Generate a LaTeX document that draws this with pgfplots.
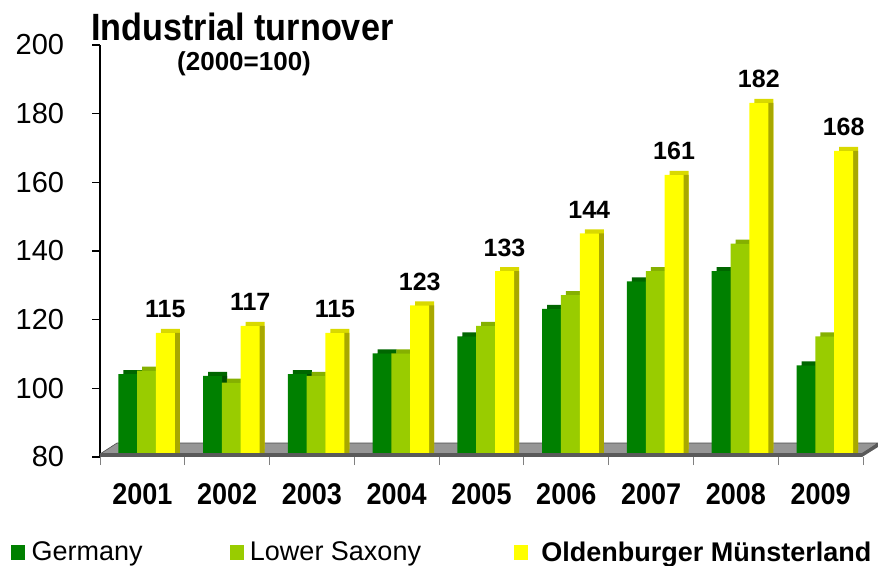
\documentclass[border=0pt]{standalone}
\usepackage{fontspec}
\setmainfont{Liberation Sans}
\newfontfamily\condfont{Liberation Sans}[FakeStretch=0.9]
\usepackage{pgfplots}
\pgfplotsset{compat=1.18}
\usetikzlibrary{shadows}
\definecolor{Gc}{HTML}{008000}
\definecolor{Gtop}{HTML}{006600}
\definecolor{Gside}{HTML}{004D00}
\definecolor{Lc}{HTML}{99CC00}
\definecolor{Ltop}{HTML}{85B000}
\definecolor{Lside}{HTML}{6B8F00}
\definecolor{Oc}{HTML}{FFFF00}
\definecolor{Otop}{HTML}{D9D900}
\definecolor{Oside}{HTML}{A8A800}
\definecolor{floortop}{HTML}{969696}
\definecolor{floorfront}{HTML}{5A5A5A}
\tikzset{
  bar3d/.style 2 args={
    general shadow={shadow xshift=5bp, shadow yshift=4bp, fill=#1, draw=none},
    general shadow={shadow xshift=5bp, shadow yshift=0bp, fill=#2, draw=none}}
}
\pgfplotstableread{
x  G      L      O
0  103    104    115
1  102.5  100.5  117
2  103    102.5  115
3  109    109    123
4  114    117    133
5  122    126    144
6  130    133    161
7  133    141    182
8  105.5  114    168
}\datatable
\begin{document}
\begin{tikzpicture}
\useasboundingbox (0,0) rectangle (878bp,-566bp);
\begin{axis}[
  at={(100bp,-457bp)}, anchor=south west,
  width=763bp, height=412bp, scale only axis,
  xmin=-0.5, xmax=8.5, ymin=80, ymax=200,
  ybar, bar width=19bp,
  clip mode=individual,
  axis lines*=left,
  x axis line style={draw=none},
  y axis line style={draw=black, line width=1.5bp},
  tick align=outside,
  major tick length=8bp,
  ytick={80,100,...,200},
  ytick style={draw=black, line width=1.2bp},
  /pgf/number format/assume math mode=true,
  yticklabel style={font=\fontsize{29bp}{34bp}\selectfont, anchor=east, inner sep=0pt, xshift=-27.7bp},
  xtick={-0.5,0.5,...,8.5},
  xticklabels={},
  xtick style={draw=gray, line width=0.8bp},
  extra x ticks={0,1,2,3,4,5,6,7,8},
  extra x tick labels={2001,2002,2003,2004,2005,2006,2007,2008,2009},
  extra x tick style={major tick length=0pt,
     xticklabel style={font=\condfont\bfseries\fontsize{30bp}{36bp}\selectfont, anchor=base, inner sep=0pt, yshift=-47bp}},
  legend columns=3,
  legend style={at={(-0.1206,-0.2306)}, anchor=west, draw=none, fill=none,
     font=\fontsize{27bp}{31bp}\selectfont,
     /tikz/every odd column/.append style={column sep=5bp},
     /tikz/every even column/.append style={column sep=85bp}},
]
\fill[floortop, draw=black!70, line width=0.6bp]
  ([yshift=3bp]axis cs:-0.5,80) -- ([yshift=3bp,xshift=-1bp]axis cs:8.5,80)
  -- ([shift={(15bp,14bp)}]axis cs:8.5,80) -- ([shift={(17bp,14bp)}]axis cs:-0.5,80) -- cycle;
\addlegendimage{legend image code/.code={\fill[Gc] (0bp,-7bp) rectangle (13bp,7bp);}}
\addlegendentry{Germany}
\addlegendimage{legend image code/.code={\fill[Lc] (0bp,-7bp) rectangle (13bp,7bp);}}
\addlegendentry{Lower Saxony}
\addlegendimage{legend image code/.code={\path (0bp,0bp); \fill[Oc] (6bp,-7bp) rectangle (19bp,7bp); \path (26bp,0bp);}}
\addlegendentry{\textbf{Oldenburger Münsterland}}
\addplot[fill=Gc, draw=none, yshift=4bp, bar shift=-14.6bp, bar3d={Gtop}{Gside}, forget plot] table[x=x, y=G] {\datatable};
\addplot[fill=Lc, draw=none, yshift=4bp, bar shift=4.2bp, bar3d={Ltop}{Lside}, forget plot] table[x=x, y=L] {\datatable};
\addplot[fill=Oc, draw=none, yshift=4bp, bar shift=23bp, bar3d={Otop}{Oside}, forget plot,
  nodes near coords,
  every node near coord/.append style={font=\bfseries\fontsize{25bp}{30bp}\selectfont, text=black, anchor=base, yshift=15bp, inner sep=0pt}]
  table[x=x, y=O] {\datatable};
\fill[floorfront] (axis cs:-0.5,80) rectangle ([yshift=4bp,xshift=-1bp]axis cs:8.5,80);
\fill[floorfront] ([xshift=-1bp]axis cs:8.5,80) -- ([shift={(15bp,10bp)}]axis cs:8.5,80) -- ([shift={(15bp,14bp)}]axis cs:8.5,80) -- ([yshift=4bp,xshift=-1bp]axis cs:8.5,80) -- cycle;
\end{axis}
\node[anchor=base west, inner sep=0pt, font=\condfont\bfseries\fontsize{38bp}{44bp}\selectfont] at (91bp,-40bp) {Industrial turnover};
\node[anchor=base west, inner sep=0pt, font=\bfseries\fontsize{26bp}{30bp}\selectfont] at (177bp,-70bp) {(2000=100)};
\end{tikzpicture}
\end{document}
